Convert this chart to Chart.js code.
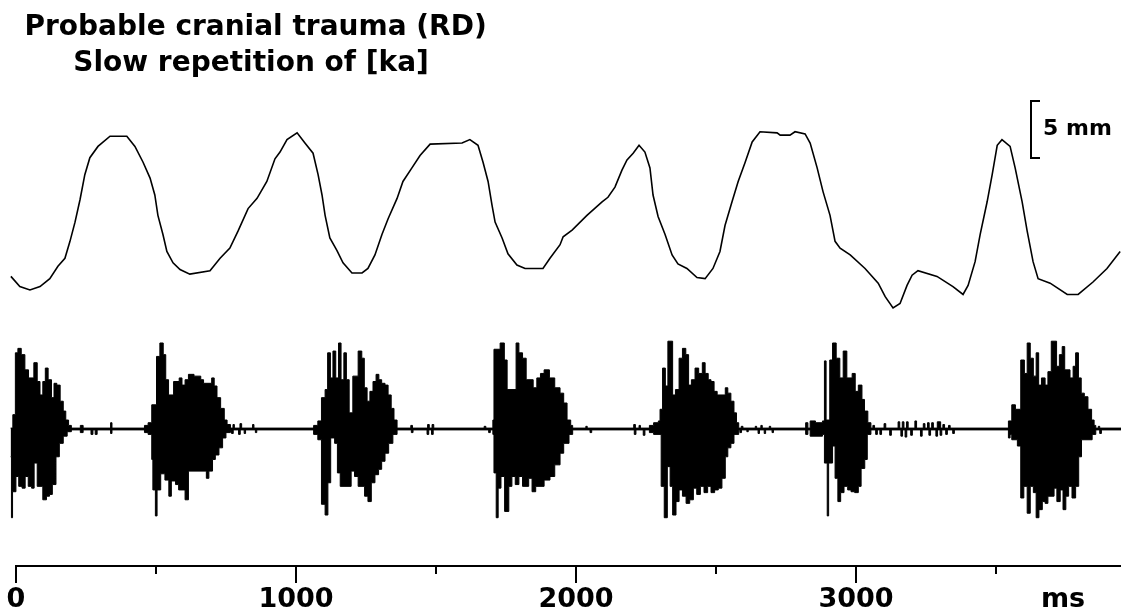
<!DOCTYPE html>
<html>
<head>
<meta charset="utf-8">
<title>Probable cranial trauma (RD)</title>
<script src="https://cdn.jsdelivr.net/npm/chart.js@4.4.1/dist/chart.umd.min.js"></script>
<style>
  html, body { margin: 0; padding: 0; background: #fff; }
  #wrap { width: 1121px; height: 614px; }
</style>
</head>
<body>
<div id="wrap"><canvas id="kaChart" width="1121" height="614"></canvas></div>
<script>
// time axis (ms)
var tickValues = [0, 1000, 2000, 3000];
var minorTicks = [500, 1500, 2500, 3500];
var timeUnit = "ms";

// articulator movement, [time ms, position mm]
var movement = [
  [-18, 2.8], [14, 1.9], [50, 1.6], [86, 1.9], [121, 2.6], [150, 3.7], [175, 4.4],
  [193, 5.9], [211, 7.6], [229, 9.6], [246, 11.8], [264, 13.3], [293, 14.3],
  [336, 15.2], [396, 15.2], [425, 14.3], [454, 12.9], [479, 11.5], [496, 10.0],
  [507, 8.2], [525, 6.5], [539, 5.0], [561, 4.0], [586, 3.4], [621, 3.0],
  [693, 3.3], [729, 4.4], [764, 5.3], [793, 6.8], [829, 8.8], [861, 9.7],
  [896, 11.2], [925, 13.2], [943, 13.8], [968, 14.9], [1004, 15.5], [1032, 14.6],
  [1061, 13.7], [1079, 11.8], [1093, 10.0], [1104, 8.2], [1121, 6.2], [1146, 5.1],
  [1168, 4.0], [1200, 3.1], [1236, 3.1], [1257, 3.5], [1282, 4.7], [1307, 6.5],
  [1329, 7.9], [1361, 9.7], [1382, 11.2], [1414, 12.4], [1443, 13.5], [1479, 14.5],
  [1593, 14.6], [1621, 14.9], [1650, 14.4], [1668, 12.9], [1686, 11.2], [1700, 9.1],
  [1711, 7.6], [1736, 6.2], [1757, 4.8], [1789, 3.8], [1818, 3.5], [1882, 3.5],
  [1907, 4.4], [1943, 5.6], [1954, 6.3], [1986, 6.9], [2039, 8.2], [2093, 9.4],
  [2114, 9.8], [2139, 10.7], [2164, 12.2], [2182, 13.1], [2204, 13.7], [2225, 14.4],
  [2246, 13.8], [2264, 12.4], [2275, 10.0], [2293, 8.1], [2318, 6.5], [2343, 4.7],
  [2364, 3.9], [2396, 3.5], [2432, 2.7], [2461, 2.6], [2489, 3.5], [2514, 5.0],
  [2532, 7.3], [2557, 9.4], [2579, 11.2], [2604, 12.9], [2629, 14.7], [2657, 15.6],
  [2718, 15.5], [2729, 15.3], [2764, 15.3], [2782, 15.6], [2818, 15.4], [2836, 14.6],
  [2861, 12.4], [2882, 10.3], [2907, 8.2], [2925, 5.9], [2943, 5.3], [2979, 4.7],
  [3032, 3.5], [3079, 2.2], [3104, 1.0], [3132, 0.0], [3157, 0.4], [3182, 2.0],
  [3200, 2.9], [3221, 3.3], [3289, 2.8], [3346, 1.9], [3382, 1.2], [3400, 2.0],
  [3425, 4.1], [3443, 6.5], [3468, 9.4], [3486, 11.8], [3504, 14.4], [3521, 14.9],
  [3550, 14.3], [3568, 12.4], [3593, 9.4], [3611, 6.8], [3632, 4.1], [3650, 2.6],
  [3693, 2.2], [3754, 1.2], [3793, 1.2], [3846, 2.3], [3896, 3.5], [3943, 5.0]
];

// acoustic signal envelope, [time ms, % of full scale]
var waveUpper = [
  [-19, 1], [-11, 16], [-2, 85], [7, 90], [19, 83], [32, 66], [45, 57], [64, 74],
  [76, 53], [86, 38], [96, 53], [105, 68], [115, 55], [127, 35], [136, 51], [146, 49],
  [158, 31], [169, 20], [178, 10], [188, 4], [198, 1], [230, 4], [240, 1], [338, 7],
  [343, 1], [459, 4], [472, 7], [485, 27], [502, 81], [514, 96], [526, 83], [535, 55],
  [545, 38], [563, 53], [583, 57], [593, 49], [604, 55], [616, 61], [636, 59], [660, 55],
  [670, 51], [699, 57], [708, 48], [718, 35], [731, 23], [744, 10], [754, 5], [766, 1],
  [775, 5], [780, 1], [800, 6], [806, 1], [845, 5], [850, 1],
  [1063, 4], [1078, 9], [1091, 35], [1104, 44], [1113, 85], [1123, 57], [1132, 87],
  [1142, 57], [1152, 96], [1161, 55], [1171, 85], [1180, 55], [1190, 18], [1203, 59],
  [1222, 87], [1235, 79], [1244, 46], [1254, 31], [1264, 42], [1275, 53], [1286, 61],
  [1296, 55], [1306, 51], [1318, 49], [1329, 38], [1340, 23], [1350, 10], [1361, 1],
  [1410, 4], [1416, 1], [1470, 5], [1476, 1], [1486, 5], [1492, 1], [1672, 3], [1678, 1],
  [1703, 10], [1707, 89], [1729, 96], [1744, 77], [1754, 44], [1786, 96], [1796, 85],
  [1809, 79], [1822, 55], [1847, 46], [1860, 57], [1873, 62], [1886, 66], [1905, 57],
  [1924, 46], [1943, 40], [1956, 29], [1968, 10], [1981, 4], [1988, 1],
  [2035, 3], [2040, 1], [2206, 5], [2212, 1], [2225, 4], [2230, 1],
  [2262, 4], [2277, 7], [2294, 9], [2300, 22], [2309, 68], [2319, 48], [2328, 98],
  [2345, 38], [2355, 44], [2368, 79], [2380, 90], [2392, 83], [2402, 49], [2412, 55],
  [2425, 68], [2438, 62], [2451, 74], [2461, 62], [2472, 55], [2482, 53], [2493, 42],
  [2504, 38], [2533, 46], [2542, 40], [2553, 31], [2564, 18], [2573, 7], [2581, 1],
  [2590, 3], [2596, 1], [2640, 3], [2645, 1], [2660, 4], [2665, 1], [2690, 3], [2695, 1],
  [2820, 7], [2828, 1], [2836, 9], [2855, 7], [2880, 9], [2887, 76], [2893, 10],
  [2906, 77], [2916, 96], [2929, 79], [2942, 57], [2954, 87], [2967, 57], [2986, 62],
  [2997, 42], [3008, 49], [3021, 33], [3030, 20], [3042, 7], [3053, 1],
  [3060, 4], [3066, 1], [3100, 6], [3106, 1], [3150, 8], [3156, 1], [3165, 8], [3171, 1],
  [3180, 8], [3186, 1], [3210, 9], [3216, 1], [3240, 6], [3246, 1], [3255, 7], [3261, 1],
  [3270, 7], [3276, 1], [3290, 8], [3302, 1], [3310, 5], [3316, 1], [3330, 4], [3336, 1],
  [3544, 9], [3556, 27], [3569, 22], [3588, 77], [3601, 62], [3611, 96], [3622, 79],
  [3633, 59], [3643, 85], [3652, 49], [3662, 57], [3675, 49], [3685, 64], [3697, 98],
  [3716, 70], [3726, 83], [3736, 92], [3745, 66], [3764, 57], [3775, 70], [3784, 85],
  [3794, 57], [3804, 40], [3815, 36], [3828, 22], [3841, 10], [3850, 4], [3856, 1],
  [3865, 3], [3870, 1], [3946, 1]
];
var waveLower = [
  [-19, -31], [-16, -99], [-12, -70], [0, -53], [10, -64], [22, -66], [33, -53], [44, -64],
  [56, -66], [65, -38], [76, -64], [96, -79], [109, -75], [120, -73], [130, -62], [143, -31],
  [155, -16], [169, -8], [183, -3], [198, -1], [230, -4], [240, -1], [268, -6], [275, -1],
  [283, -6], [290, -1], [338, -5], [343, -1],
  [459, -4], [472, -6], [485, -34], [489, -68], [498, -97], [504, -68], [517, -50],
  [532, -57], [546, -75], [555, -58], [570, -62], [581, -68], [604, -79], [616, -47],
  [680, -55], [689, -47], [702, -34], [712, -29], [725, -21], [738, -10], [750, -4],
  [766, -1], [770, -5], [776, -1], [795, -6], [801, -1], [815, -5], [820, -1], [855, -4],
  [860, -1],
  [1063, -6], [1078, -12], [1091, -84], [1104, -96], [1114, -60], [1124, -10], [1138, -16],
  [1148, -49], [1158, -64], [1197, -47], [1209, -53], [1222, -64], [1245, -75], [1257, -81],
  [1269, -60], [1282, -51], [1295, -45], [1306, -36], [1318, -27], [1331, -16], [1346, -6],
  [1361, -1], [1412, -4], [1418, -1], [1468, -6], [1474, -1], [1484, -6], [1490, -1],
  [1688, -4], [1694, -1],
  [1703, -6], [1707, -49], [1715, -99], [1722, -66], [1732, -53], [1745, -92], [1760, -64],
  [1771, -53], [1783, -62], [1796, -53], [1809, -64], [1831, -55], [1843, -70], [1856, -64],
  [1886, -57], [1907, -53], [1924, -40], [1943, -27], [1956, -16], [1975, -6], [1988, -1],
  [2050, -4], [2056, -1], [2208, -6], [2214, -1], [2240, -7], [2246, -1],
  [2262, -4], [2277, -6], [2304, -64], [2315, -99], [2326, -42], [2336, -64], [2345, -96],
  [2357, -81], [2368, -68], [2380, -75], [2393, -83], [2406, -79], [2419, -66], [2431, -73],
  [2444, -64], [2457, -71], [2470, -64], [2482, -71], [2495, -68], [2508, -66], [2521, -55],
  [2533, -31], [2542, -21], [2553, -16], [2564, -6], [2581, -1], [2585, -4], [2591, -1],
  [2610, -3], [2615, -1], [2650, -5], [2655, -1], [2672, -5], [2677, -1], [2700, -4],
  [2705, -1],
  [2820, -6], [2828, -1], [2836, -8], [2880, -6], [2887, -38], [2897, -97], [2902, -38],
  [2916, -19], [2925, -55], [2935, -81], [2945, -71], [2957, -64], [2970, -68], [2982, -70],
  [2995, -71], [3008, -64], [3018, -44], [3031, -34], [3040, -6], [3053, -1],
  [3070, -6], [3076, -1], [3085, -6], [3091, -1], [3120, -7], [3126, -1], [3160, -8],
  [3166, -1], [3175, -9], [3181, -1], [3195, -7], [3201, -1], [3230, -8], [3236, -1],
  [3260, -7], [3266, -1], [3285, -8], [3291, -1], [3300, -7], [3306, -1], [3320, -6],
  [3326, -1], [3345, -5], [3351, -1],
  [3544, -10], [3550, -6], [3556, -12], [3576, -19], [3588, -77], [3599, -64], [3611, -94],
  [3622, -64], [3633, -71], [3643, -99], [3653, -90], [3665, -81], [3675, -83], [3685, -75],
  [3707, -66], [3717, -81], [3729, -68], [3739, -90], [3749, -75], [3759, -64], [3771, -77],
  [3784, -64], [3795, -31], [3805, -12], [3843, -6], [3856, -1], [3870, -5], [3876, -1],
  [3946, -1]
];

// calibration bar (mm)
var calibTime = 3621;
var calibFrom = 13.4;
var calibSize = 5;
var calibLabel = "5 mm";

function toPoints(pairs) {
  return pairs.map(function (p) {
    return { x: p[0], y: p[1] };
  });
}

var labelFont = { family: "'DejaVu Sans'", weight: "bold", size: 27, lineHeight: 1.2 };

// axis line, tick marks, unit and calibration bar
var decorPlugin = {
  id: "decor",
  afterDraw: function (chart) {
    var ctx = chart.ctx;
    var xs = chart.scales.x;
    var ym = chart.scales.yMove;
    var axisY = chart.chartArea.bottom;
    ctx.save();
    ctx.fillStyle = "#000";

    var x0 = Math.round(xs.getPixelForValue(0));
    ctx.fillRect(x0 - 1, axisY - 1, chart.width - x0 + 1, 2);
    tickValues.forEach(function (v) {
      ctx.fillRect(Math.round(xs.getPixelForValue(v)) - 1, axisY, 2, 17);
    });
    minorTicks.forEach(function (v) {
      ctx.fillRect(Math.round(xs.getPixelForValue(v)) - 1, axisY, 2, 8);
    });

    ctx.font = "bold 27px 'DejaVu Sans'";
    ctx.textAlign = "center";
    ctx.textBaseline = "middle";
    ctx.fillText(timeUnit, chart.chartArea.right - 58, xs.top + 18 + 16.2);

    // calibration bracket
    var bx = Math.round(xs.getPixelForValue(calibTime));
    var yTop = Math.round(ym.getPixelForValue(calibFrom + calibSize));
    var yBot = Math.round(ym.getPixelForValue(calibFrom));
    ctx.fillRect(bx, yTop, 2, yBot - yTop + 2);
    ctx.fillRect(bx, yTop, 10, 2);
    ctx.fillRect(bx, yBot, 10, 2);
    ctx.font = "bold 22px 'DejaVu Sans'";
    ctx.textAlign = "left";
    ctx.textBaseline = "alphabetic";
    ctx.fillText(calibLabel, bx + 13, (yTop + yBot) / 2 + 6);
    ctx.restore();
  }
};

var ctx = document.getElementById("kaChart");
var kaChart = new Chart(ctx, {
  type: "line",
  data: {
    datasets: [
      {
        label: "Movement",
        data: toPoints(movement),
        yAxisID: "yMove",
        borderColor: "#000",
        borderWidth: 1.6,
        pointRadius: 0,
        tension: 0,
        fill: false,
      },
      {
        label: "Signal +",
        data: toPoints(waveUpper),
        yAxisID: "yWave",
        stepped: "before",
        borderColor: "#000",
        borderWidth: 1,
        backgroundColor: "#000",
        pointRadius: 0,
        fill: "origin",
      },
      {
        label: "Signal -",
        data: toPoints(waveLower),
        yAxisID: "yWave",
        stepped: "before",
        borderColor: "#000",
        borderWidth: 1,
        backgroundColor: "#000",
        pointRadius: 0,
        fill: "origin",
      },
    ],
  },
  options: {
    responsive: false,
    animation: false,
    layout: { padding: { left: 5, right: 0, top: 0, bottom: 0 } },
    scales: {
      x: {
        type: "linear",
        position: "bottom",
        min: -39,
        max: 3946,
        grid: { display: false, drawTicks: true, tickLength: 18 },
        border: { display: false },
        afterBuildTicks: function (scale) {
          scale.ticks = tickValues.map(function (v) {
            return { value: v };
          });
        },
        afterFit: function (scale) {
          scale.height = 48;
          scale.paddingLeft = 0;
          scale.paddingRight = 0;
        },
        ticks: {
          color: "#000",
          font: labelFont,
          padding: 0,
          maxRotation: 0,
          autoSkip: false,
          callback: function (value) {
            return String(value);
          },
        },
      },
      yMove: {
        type: "linear",
        display: false,
        min: -22.83,
        max: 20.0,
      },
      yWave: {
        type: "linear",
        display: false,
        min: -152.9,
        max: 387.28,
      },
    },
    plugins: {
      legend: { display: false },
      tooltip: { enabled: false },
      title: {
        display: true,
        align: "start",
        color: "#000",
        text: ["  Probable cranial trauma (RD)", "       Slow repetition of [ka]"],
        font: { family: "'DejaVu Sans'", weight: "bold", size: 28, lineHeight: 36 / 28 },
        padding: { top: 10, bottom: 0 },
      },
    },
  },
  plugins: [decorPlugin],
});
</script>
</body>
</html>
